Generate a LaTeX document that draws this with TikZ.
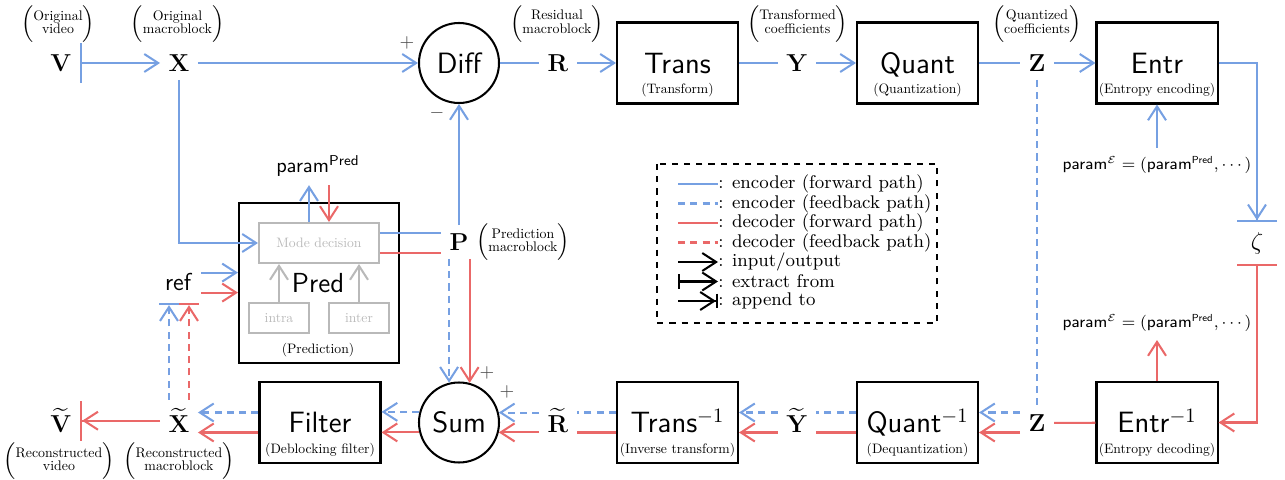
\documentclass[tikz,border=0pt]{standalone}
\usepackage{amsmath,amssymb,graphicx}
\usetikzlibrary{arrows.meta,calc}
\definecolor{encc}{RGB}{118,160,226}
\definecolor{decc}{RGB}{234,104,104}
\definecolor{lgray}{RGB}{185,185,185}
\newcommand{\tinytxt}[1]{\scalebox{0.67}{\normalsize #1}}
\newcommand{\annot}[2]{$\Big(\vcenter{\hbox{\scalebox{0.68}{\fontsize{10}{9.6}\selectfont\begin{tabular}{@{}c@{}}#1\\#2\end{tabular}}}}\Big)$}
\tikzset{
  conn/.style={line width=1pt},
  encf/.style={conn, draw=encc},
  encb/.style={encf, dash pattern=on 3.5pt off 2.5pt},
  decf/.style={conn, draw=decc},
  decb/.style={decf, dash pattern=on 3.5pt off 2.5pt},
  gconn/.style={conn, draw=lgray},
  ext/.style={arrows={Bar[width=#1]}-{>}},
  app/.style={arrows=-{> Bar[width=#1]}},
  blk/.style={draw, line width=1pt, minimum width=59.3pt, minimum height=39.7pt, inner sep=0pt},
  sumnode/.style={draw, circle, line width=1pt, minimum size=39.2pt, inner sep=0pt, font=\Large\sffamily},
  var/.style={font=\fontsize{13}{15}\selectfont, inner sep=4pt},
  ttl/.style={font=\Large\sffamily, text height=10pt, text depth=0pt, inner sep=0pt},
  sub/.style={inner sep=0pt},
  gbox/.style={draw=lgray, line width=1pt, text=lgray, inner sep=0pt},
  sign/.style={text=black!70, inner sep=0pt, font=\small},
  lgtext/.style={font=\small, anchor=west, inner sep=0pt},
}
\begin{document}
\begin{tikzpicture}[x=0.49pt,y=-0.49pt, >={Straight Barb[length=6.8pt,width=8.8pt]}]
\useasboundingbox (0,0) rectangle (1285,480);

% ---------- top row ----------
\node[var] (V) at (61,63) {$\mathbf{V}$};
\node[var] (X) at (179,63) {$\mathbf{X}$};
\node[sumnode] (diff) at (459,63) {Diff};
\node[var] (R) at (558,63) {$\mathbf{R}$};
\node[blk] (trans) at (677.5,63) {};
\node[ttl] (trans-t) at (trans) {Trans};
\node[sub] (trans-s) at ([yshift=6.9pt]trans.south) {\tinytxt{(Transform)}};
\node[var] (Y) at (797,63) {$\mathbf{Y}$};
\node[blk] (quant) at (917.5,63) {};
\node[ttl] (quant-t) at (quant) {Quant};
\node[sub] (quant-s) at ([yshift=6.9pt]quant.south) {\tinytxt{(Quantization)}};
\node[var] (Z) at (1037,63) {$\mathbf{Z}$};
\node[blk] (entr) at (1157,63) {};
\node[ttl] (entr-t) at (entr) {Entr};
\node[sub] (entr-s) at ([yshift=6.9pt]entr.south) {\tinytxt{(Entropy encoding)}};

% ---------- bottom row ----------
\node[var, anchor=base] (Vt) at (61,433) {$\widetilde{\mathbf{V}}$};
\node[var, anchor=base] (Xt) at (179,433) {$\widetilde{\mathbf{X}}$};
\node[blk] (filter) at (320,422.5) {};
\node[ttl] (filter-t) at (filter) {Filter};
\node[sub] (filter-s) at ([yshift=6.9pt]filter.south) {\tinytxt{(Deblocking filter)}};
\node[sumnode] (sum) at (459,422.5) {Sum};
\node[var, anchor=base] (Rt) at (558,433) {$\widetilde{\mathbf{R}}$};
\node[blk] (transinv) at (677.5,422.5) {};
\node[ttl] (transinv-t) at (transinv) {Trans$^{-1}$};
\node[sub] (transinv-s) at ([yshift=6.9pt]transinv.south) {\tinytxt{(Inverse transform)}};
\node[var, anchor=base] (Yt) at (797,433) {$\widetilde{\mathbf{Y}}$};
\node[blk] (quantinv) at (917.5,422.5) {};
\node[ttl] (quantinv-t) at (quantinv) {Quant$^{-1}$};
\node[sub] (quantinv-s) at ([yshift=6.9pt]quantinv.south) {\tinytxt{(Dequantization)}};
\node[var] (Zb) at (1037,423) {$\mathbf{Z}$};
\node[blk] (entrinv) at (1157,422.5) {};
\node[ttl] (entrinv-t) at (entrinv) {Entr$^{-1}$};
\node[sub] (entrinv-s) at ([yshift=6.9pt]entrinv.south) {\tinytxt{(Entropy decoding)}};

% ---------- middle ----------
\node[font=\large, inner ysep=4.6pt] (zeta) at (1257,243) {$\zeta$};
\node[font=\fontsize{7.8}{9}\selectfont, inner sep=4pt] (paramE1) at (1157,165) {$\mathsf{param}^{\mathcal{E}} = (\mathsf{param}^{\mathsf{Pred}}, \cdots)$};
\node[font=\fontsize{7.8}{9}\selectfont, inner sep=4pt] (paramE2) at (1157,323) {$\mathsf{param}^{\mathcal{E}} = (\mathsf{param}^{\mathsf{Pred}}, \cdots)$};
\node[var] (P) at (459,242) {$\mathbf{P}$};
\node[font=\large, inner xsep=4pt, inner ysep=6pt] (ref) at (179,282) {$\mathsf{ref}$};
\node[draw, line width=1pt, minimum width=78.4pt, minimum height=78.4pt, inner sep=0pt] (pred) at (319,283) {};
\node[gbox, minimum width=58.8pt, minimum height=19.6pt] (mode) at (319,243) {\tinytxt{Mode decision}};
\node[gbox, minimum width=29.4pt, minimum height=14.7pt] (intra) at (279,318) {\tinytxt{intra}};
\node[gbox, minimum width=29.4pt, minimum height=14.7pt] (inter) at (359,318) {\tinytxt{inter}};
\node[font=\sffamily\fontsize{13.5}{15}\selectfont, inner sep=0pt] (pred-t) at (318,283) {Pred};
\node[sub] (pred-s) at (318,350) {\tinytxt{(Prediction)}};
\node[inner sep=4pt] (paramP) at (318,166) {$\mathsf{param}^{\mathsf{Pred}}$};

% ---------- signs ----------
\node[sign] (s1) at (407,43) {$+$};
\node[sign] (s2) at (437,113) {$-$};
\node[sign] (s3) at (487,373) {$+$};
\node[sign] (s4) at (507,392) {$+$};

% ---------- annotations ----------
\node[inner sep=0pt] (a1) at (58,24) {\annot{Original}{video}};
\node[inner sep=0pt] (a2) at (177.5,24) {\annot{Original}{macroblock}};
\node[inner sep=0pt] (a3) at (557,24) {\annot{Residual}{macroblock}};
\node[inner sep=0pt] (a4) at (797.5,24) {\annot{Transformed}{coefficients}};
\node[inner sep=0pt] (a5) at (1037,24) {\annot{Quantized}{coefficients}};
\node[inner sep=0pt] (a6) at (523,242) {\annot{Prediction}{macroblock}};
\node[inner sep=0pt] (a7) at (59,461) {\annot{Reconstructed}{video}};
\node[inner sep=0pt] (a8) at (179,461) {\annot{Reconstructed}{macroblock}};

% ---------- top connectors ----------
\draw[encf, ext=19.6pt] (V) -- (X);
\draw[encf, ->] (X) -- (diff);
\draw[encf] (diff) -- (R);
\draw[encf, ->] (R) -- (trans);
\draw[encf] (trans) -- (Y);
\draw[encf, ->] (Y) -- (quant);
\draw[encf] (quant) -- (Z);
\draw[encf, ->] (Z) -- (entr);
\draw[encf, app=19.6pt] (entr.east) -| (zeta.north);
\draw[decf, ext=19.6pt] (zeta.south) |- (entrinv.east);
\draw[encf, ->] (paramE1) -- (entr);
\draw[decf, ->] (entrinv) -- (paramE2);

% ---------- bottom connectors ----------
\draw[decf] (entrinv) -- (Zb);
\draw[encb] (Z) -- (Zb);
\draw[encb, ->] ([yshift=4.9pt]quantinv.east -| Zb.west) -- ([yshift=4.9pt]quantinv.east);
\draw[decf, ->] ([yshift=-4.9pt]quantinv.east -| Zb.west) -- ([yshift=-4.9pt]quantinv.east);
\draw[encb] ([yshift=4.9pt]quantinv.west) -- ([yshift=4.9pt]quantinv.west -| Yt.east);
\draw[decf] ([yshift=-4.9pt]quantinv.west) -- ([yshift=-4.9pt]quantinv.west -| Yt.east);
\draw[encb, ->] ([yshift=4.9pt]transinv.east -| Yt.west) -- ([yshift=4.9pt]transinv.east);
\draw[decf, ->] ([yshift=-4.9pt]transinv.east -| Yt.west) -- ([yshift=-4.9pt]transinv.east);
\draw[encb] ([yshift=4.9pt]transinv.west) -- ([yshift=4.9pt]transinv.west -| Rt.east);
\draw[decf] ([yshift=-4.9pt]transinv.west) -- ([yshift=-4.9pt]transinv.west -| Rt.east);
\draw[encb, ->] (sum.14.5 -| Rt.west) -- (sum.14.5);
\draw[decf, ->] (sum.-14.5 -| Rt.west) -- (sum.-14.5);
\draw[encb, ->] (sum.165.5) -- (sum.165.5 -| filter.east);
\draw[decf, ->] (sum.194.5) -- (sum.194.5 -| filter.east);
\draw[encb, ->] ([yshift=4.9pt]filter.west) -- ([yshift=4.9pt]filter.west -| Xt.east);
\draw[decf, ->] ([yshift=-4.9pt]filter.west) -- ([yshift=-4.9pt]filter.west -| Xt.east);
\draw[decf, app=19.6pt] (Xt) -- (Vt);
\draw[encb, app=9.8pt] ([xshift=-4.9pt]Xt.north) -- ([xshift=-4.9pt]Xt.north |- ref.south);
\draw[decb, app=9.8pt] ([xshift=4.9pt]Xt.north) -- ([xshift=4.9pt]Xt.north |- ref.south);

% ---------- prediction connectors ----------
\draw[encf, ->] ([yshift=4.6pt]ref.east) -- ([yshift=4.6pt]ref.east -| pred.west);
\draw[decf, ->] ([yshift=-5.2pt]ref.east) -- ([yshift=-5.2pt]ref.east -| pred.west);
\draw[encf, ->] (X) |- (mode);
\draw[encf] ([yshift=4.9pt]mode.east) -- ([yshift=4.9pt]mode.east -| P.west);
\draw[decf] ([yshift=-4.9pt]mode.east) -- ([yshift=-4.9pt]mode.east -| P.west);
\draw[encf, ->] (P) -- (diff);
\draw[encb, ->] (sum.104.5 |- P.south) -- (sum.104.5);
\draw[decf, ->] (sum.75.5 |- P.south) -- (sum.75.5);
\draw[encf, ->] ([xshift=-4.9pt]mode.north) -- ([xshift=-4.9pt]mode.north |- paramP.south);
\draw[decf, ->] ([xshift=4.9pt]mode.north |- paramP.south) -- ([xshift=4.9pt]mode.north);
\draw[gconn, ->] (intra) -- (intra.north |- mode.south);
\draw[gconn, ->] (inter) -- (inter.north |- mode.south);

% ---------- legend ----------
\draw[line width=1pt, dash pattern=on 3pt off 3pt] (657,164) rectangle (937,323);
\draw[encf] (678,184) -- (718,184);
\node[lgtext] (l1) at (718,184) {: encoder (forward path)};
\draw[encb] (678,203.5) -- (718,203.5);
\node[lgtext] (l2) at (718,203.5) {: encoder (feedback path)};
\draw[decf] (678,223) -- (718,223);
\node[lgtext] (l3) at (718,223) {: decoder (forward path)};
\draw[decb] (678,242.5) -- (718,242.5);
\node[lgtext] (l4) at (718,242.5) {: decoder (feedback path)};
\draw[conn, ->] (678,262) -- (718,262);
\node[lgtext] (l5) at (718,262) {: input/output};
\draw[conn, ext=7.3pt] (678,281.5) -- (718,281.5);
\node[lgtext] (l6) at (718,281.5) {: extract from};
\draw[conn, app=7.3pt] (678,301) -- (718,301);
\node[lgtext] (l7) at (718,301) {: append to};
\end{tikzpicture}
\end{document}
